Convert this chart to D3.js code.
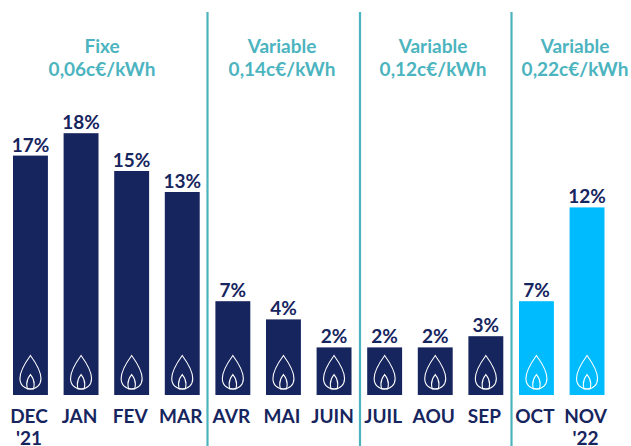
<!DOCTYPE html>
<html>
<head>
<meta charset="utf-8">
<script src="https://cdn.jsdelivr.net/npm/d3@7"></script>
<style>
html, body { margin: 0; padding: 0; background: #fff; }
svg { display: block; }
text { font-family: Lato, sans-serif; font-weight: 700; }
</style>
</head>
<body>
<svg id="chart" width="631" height="446"></svg>
<script>
const months = ["DEC", "JAN", "FEV", "MAR", "AVR", "MAI", "JUIN", "JUIL", "AOU", "SEP", "OCT", "NOV"];
const years = ["'21", "", "", "", "", "", "", "", "", "", "", "'22"];
// bar heights as drawn, they do not quite follow the rounded labels
const barValues = [17.1, 18.7, 16.0, 14.5, 6.7, 5.4, 3.4, 3.4, 3.4, 4.2, 6.7, 13.4];
const barLabels = ["17%", "18%", "15%", "13%", "7%", "4%", "2%", "2%", "2%", "3%", "7%", "12%"];
const periods = ["fixed", "fixed", "fixed", "fixed", "var", "var", "var", "var", "var", "var", "recent", "recent"];
const headerTop = ["Fixe", "Variable", "Variable", "Variable"];
const headerBottom = ["0,06c€/kWh", "0,14c€/kWh", "0,12c€/kWh", "0,22c€/kWh"];
const headerCenters = [102, 282, 433, 575];
const dividers = [207.5, 360, 511.5];

const navy = "#17255f", cyan = "#00bcff", teal = "#4bb4bf";

let svg = d3.select("#chart");

let x = d3.scaleBand()
    .domain(months)
    .range([13, 604.5])
    .paddingInner(0.31)
    .paddingOuter(0);

let y = d3.scaleLinear()
    .domain([0, 20])
    .range([395, 115]);

svg.selectAll("line.divider")
    .data(dividers)
    .enter()
    .append("line")
    .attr("class", "divider")
    .attr("x1", d => d)
    .attr("x2", d => d)
    .attr("y1", 12)
    .attr("y2", 446)
    .style("stroke", teal)
    .style("stroke-width", 2.2);

svg.selectAll("rect.bar")
    .data(months)
    .enter()
    .append("rect")
    .attr("class", "bar")
    .attr("x", d => x(d))
    .attr("width", x.bandwidth())
    .attr("y", (d, i) => y(barValues[i]))
    .attr("height", (d, i) => y(0) - y(barValues[i]))
    .style("fill", (d, i) => periods[i] == "recent" ? cyan : navy);

// flame icon, outer drop + inner drop
let flame = svg.selectAll("g.flame")
    .data(months)
    .enter()
    .append("g")
    .attr("class", "flame")
    .attr("transform", d => "translate(" + (x(d) + x.bandwidth() / 2) + ",389)")
    .style("fill", "none")
    .style("stroke", "#fff")
    .style("stroke-width", 1.1);

flame.append("path")
    .attr("d", "M0,-33.5 C4,-28 10.5,-19 10.5,-10.5 C10.5,-4 6,0 0,0 C-6,0 -10.5,-4 -10.5,-10.5 C-10.5,-19 -4,-28 0,-33.5 Z");
flame.append("path")
    .attr("d", "M0,-14.5 C2,-12 3.7,-9 3.7,-5 C3.7,-2 3.2,-1 3,0 L-3,0 C-3.2,-1 -3.7,-2 -3.7,-5 C-3.7,-9 -2,-12 0,-14.5 Z");

svg.selectAll("text.value")
    .data(months)
    .enter()
    .append("text")
    .attr("class", "value")
    .attr("x", d => x(d) + x.bandwidth() / 2)
    .attr("y", (d, i) => y(barValues[i]) - 4)
    .attr("text-anchor", "middle")
    .style("font-size", "19px")
    .style("fill", navy)
    .text((d, i) => barLabels[i]);

// month and year share one text element, two lines
let monthLabel = svg.selectAll("text.month")
    .data(months)
    .enter()
    .append("text")
    .attr("class", "month")
    .attr("text-anchor", "middle")
    .style("font-size", "19px")
    .style("fill", navy);

monthLabel.append("tspan")
    .attr("x", d => x(d) + x.bandwidth() / 2 - 1.5)
    .attr("y", 423)
    .text(d => d);

monthLabel.append("tspan")
    .attr("x", d => x(d) + x.bandwidth() / 2 - 1.5)
    .attr("y", 445)
    .text((d, i) => years[i]);

headerTop.forEach(function(t, i) {
    let h = svg.append("text")
        .attr("text-anchor", "middle")
        .style("font-size", "19px")
        .style("fill", teal);
    h.append("tspan").attr("x", headerCenters[i]).attr("y", 53).text(t);
    h.append("tspan").attr("x", headerCenters[i]).attr("y", 76).text(headerBottom[i]);
});
</script>
</body>
</html>
